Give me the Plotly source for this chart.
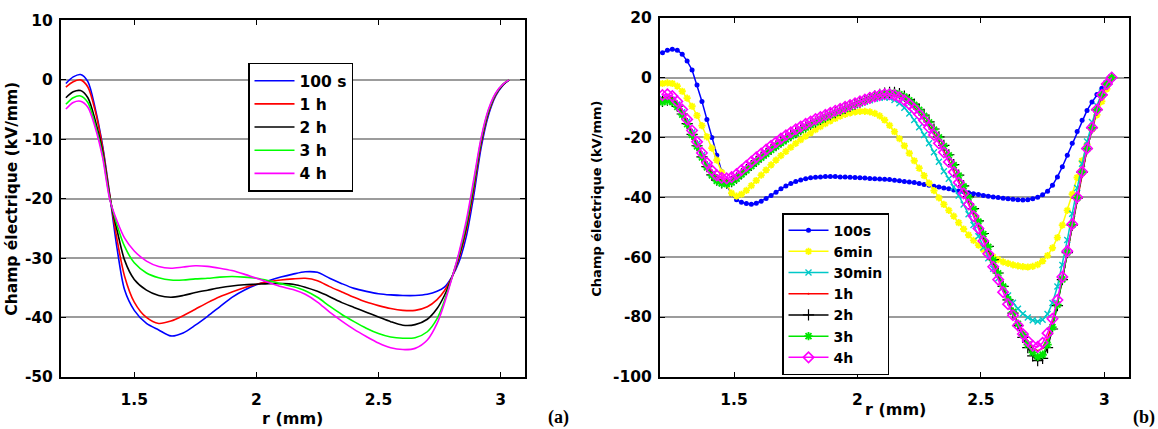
import plotly.graph_objects as go

# ---------------- data: panel (a) ----------------
r_a = [1.22, 1.25, 1.28, 1.31, 1.34, 1.37, 1.40, 1.43, 1.46,
       1.50, 1.55, 1.60, 1.65, 1.70, 1.75, 1.80, 1.85, 1.90, 1.95,
       2.00, 2.05, 2.10, 2.15, 2.20, 2.25, 2.30, 2.35, 2.40, 2.45,
       2.50, 2.55, 2.60, 2.65, 2.70, 2.74, 2.77, 2.80, 2.83, 2.86,
       2.89, 2.92, 2.95, 2.98, 3.01, 3.035]

a_100s = [-0.6, 0.5, 0.9, -0.3, -4.8, -11.0, -19.5, -28.5, -35.3,
          -38.8, -41.0, -42.1, -43.1, -42.6, -41.3, -39.8, -38.2, -36.6, -35.4,
          -34.5, -33.8, -33.2, -32.7, -32.3, -32.4, -33.4, -34.3, -35.1, -35.6,
          -36.0, -36.2, -36.3, -36.3, -36.1, -35.6, -34.9, -33.2, -30.6, -26.3,
          -19.5, -11.5, -6.0, -2.7, -0.9, 0.0]
a_1h = [-1.2, -0.3, 0.0, -1.2, -5.2, -11.3, -19.5, -27.0, -33.0,
        -37.4, -40.0, -41.0, -40.6, -39.7, -38.6, -37.5, -36.5, -35.7, -35.0,
        -34.4, -34.0, -33.7, -33.5, -33.4, -33.8, -34.8, -35.7, -36.6, -37.4,
        -38.0, -38.5, -38.8, -38.8, -38.2, -37.0, -35.5, -33.3, -30.0, -25.3,
        -18.5, -10.8, -5.6, -2.5, -0.8, 0.0]
a_2h = [-3.0, -2.0, -1.8, -3.0, -6.8, -12.0, -19.8, -25.4, -30.3,
        -33.6, -35.4, -36.3, -36.6, -36.3, -35.8, -35.4, -35.0, -34.7, -34.5,
        -34.4, -34.3, -34.3, -34.4, -34.9, -35.6, -36.5, -37.5, -38.3, -39.1,
        -39.9, -40.7, -41.3, -41.2, -40.3, -38.5, -36.3, -33.3, -29.6, -24.6,
        -17.8, -10.4, -5.4, -2.4, -0.8, 0.0]
a_3h = [-4.1, -3.0, -2.7, -3.8, -7.5, -12.5, -20.0, -24.5, -28.0,
        -30.8, -32.5, -33.3, -33.7, -33.7, -33.5, -33.4, -33.2, -33.1, -33.2,
        -33.4, -33.8, -34.3, -34.8, -35.5, -36.6, -38.1, -39.5, -40.7, -41.8,
        -42.7, -43.3, -43.5, -43.4, -42.4, -40.2, -37.2, -33.4, -29.3, -24.2,
        -17.4, -10.1, -5.2, -2.3, -0.7, 0.0]
a_4h = [-4.9, -3.8, -3.6, -4.6, -8.0, -13.0, -20.2, -23.8, -26.6,
        -28.8, -30.5, -31.4, -31.7, -31.5, -31.3, -31.4, -31.7, -32.1, -32.7,
        -33.4, -34.1, -34.8, -35.3, -36.1, -37.4, -39.1, -40.6, -42.0, -43.2,
        -44.3, -45.1, -45.4, -45.2, -43.8, -41.0, -37.6, -33.5, -29.0, -23.6,
        -16.8, -9.8, -5.0, -2.2, -0.7, 0.0]

# ---------------- data: panel (b) ----------------
r_b = [1.21, 1.23, 1.25, 1.27, 1.29, 1.31, 1.33, 1.35, 1.37, 1.39,
       1.41, 1.43, 1.45, 1.47, 1.49, 1.51, 1.53, 1.55, 1.57, 1.59,
       1.61, 1.63, 1.65, 1.67, 1.69, 1.71, 1.73, 1.75, 1.77, 1.79,
       1.81, 1.83, 1.85, 1.87, 1.89, 1.91, 1.93, 1.95, 1.97, 1.99,
       2.01, 2.03, 2.05, 2.07, 2.09, 2.11, 2.13, 2.15, 2.17, 2.19,
       2.21, 2.23, 2.25, 2.27, 2.29, 2.31, 2.33, 2.35, 2.37, 2.39,
       2.41, 2.43, 2.45, 2.47, 2.49, 2.51, 2.53, 2.55, 2.57, 2.59,
       2.61, 2.63, 2.65, 2.67, 2.69, 2.71, 2.73, 2.75, 2.77, 2.79,
       2.81, 2.83, 2.85, 2.87, 2.89, 2.91, 2.93, 2.95, 2.97, 2.99,
       3.01, 3.03]

b_100s = [8.3, 9.1, 9.4, 9.1, 7.8, 5.5, 2.5, -2.5, -8.0, -14.0,
          -20.0, -26.0, -31.5, -35.8, -39.0, -40.8, -41.7, -42.1, -42.3, -42.0,
          -41.3, -40.4, -39.4, -38.3, -37.2, -36.2, -35.4, -34.7, -34.2, -33.8,
          -33.5, -33.3, -33.2, -33.1, -33.1, -33.1, -33.2, -33.2, -33.3, -33.4,
          -33.5, -33.6, -33.7, -33.8, -33.9, -34.0, -34.1, -34.3, -34.5, -34.7,
          -34.9, -35.1, -35.4, -35.7, -36.0, -36.3, -36.6, -36.9, -37.2, -37.6,
          -37.9, -38.2, -38.5, -38.8, -39.1, -39.4, -39.7, -39.9, -40.1, -40.3,
          -40.5, -40.7, -40.8, -40.9, -40.8, -40.5, -40.0, -39.2, -38.0, -36.0,
          -33.2, -29.8, -26.0, -22.0, -18.0, -14.3, -11.0, -8.2, -5.7, -3.6,
          -1.7, 0.0]
b_6min = [-2.0, -1.8, -2.0, -2.9, -4.6, -6.9, -9.6, -12.7, -16.1, -19.8,
          -23.6, -27.6, -31.7, -35.6, -38.6, -39.6, -39.0, -37.7, -36.1, -34.4,
          -32.6, -30.9, -29.2, -27.6, -26.1, -24.7, -23.3, -22.0, -20.8, -19.6,
          -18.5, -17.4, -16.4, -15.4, -14.5, -13.7, -12.9, -12.3, -11.8, -11.5,
          -11.3, -11.3, -11.5, -12.0, -12.8, -14.2, -16.0, -18.1, -20.4, -22.8,
          -25.3, -27.8, -30.3, -32.8, -35.3, -37.8, -40.2, -42.4, -44.4, -46.3,
          -48.5, -50.6, -52.6, -54.4, -56.0, -57.5, -58.8, -59.9, -60.8, -61.6,
          -62.1, -62.6, -62.9, -63.2, -63.3, -63.1, -62.5, -61.3, -59.5, -56.9,
          -53.5, -49.3, -44.4, -39.0, -33.4, -27.8, -22.4, -17.3, -12.5, -8.0,
          -3.8, 0.0]
b_30min = [-7.2, -6.9, -7.4, -9.0, -11.6, -14.8, -18.4, -22.2, -26.0, -29.4,
           -32.2, -34.2, -35.3, -35.6, -35.0, -33.7, -32.2, -30.7, -29.3, -27.9,
           -26.6, -25.3, -24.0, -22.8, -21.6, -20.5, -19.4, -18.4, -17.4, -16.5,
           -15.6, -14.8, -14.0, -13.2, -12.5, -11.8, -11.1, -10.5, -9.9, -9.3,
           -8.7, -8.1, -7.6, -7.1, -6.8, -6.6, -6.8, -7.5, -8.6, -10.1,
           -12.0, -14.2, -16.6, -19.2, -22.0, -25.0, -28.1, -31.3, -33.8, -36.6,
           -39.4, -42.4, -45.7, -49.3, -53.0, -56.8, -60.4, -63.9, -67.1, -70.1,
           -72.8, -75.2, -77.2, -78.9, -80.2, -81.1, -81.5, -80.9, -79.0, -75.3,
           -69.8, -62.6, -54.3, -45.5, -36.9, -28.8, -21.4, -14.9, -9.4, -5.0,
           -1.9, 0.0]
b_1h = [-6.8, -6.4, -7.0, -8.7, -11.4, -14.7, -18.4, -22.2, -25.9, -29.1,
        -31.7, -33.4, -34.3, -34.5, -34.1, -33.0, -31.6, -30.2, -28.8, -27.4,
        -26.1, -24.8, -23.5, -22.3, -21.1, -20.0, -19.0, -18.0, -17.1, -16.2,
        -15.4, -14.6, -13.9, -13.2, -12.5, -11.8, -11.2, -10.5, -9.9, -9.3,
        -8.7, -8.1, -7.5, -7.0, -6.5, -6.1, -5.9, -6.0, -6.5, -7.4,
        -8.6, -10.1, -11.9, -13.9, -16.2, -18.7, -21.5, -24.5, -27.7, -31.1,
        -34.6, -38.2, -41.9, -45.7, -49.6, -53.6, -57.7, -61.9, -66.1, -70.3,
        -74.4, -78.3, -81.9, -85.2, -88.1, -90.2, -91.3, -90.4, -87.2, -82.0,
        -75.2, -67.2, -58.5, -49.4, -40.4, -31.9, -24.0, -17.0, -10.9, -5.9,
        -2.3, 0.0]
b_2h = [-8.0, -7.6, -8.0, -9.6, -12.2, -15.4, -19.0, -22.8, -26.5, -29.8,
        -32.5, -34.3, -35.2, -35.3, -34.8, -33.6, -32.2, -30.8, -29.4, -28.0,
        -26.6, -25.3, -24.0, -22.8, -21.6, -20.5, -19.4, -18.4, -17.4, -16.5,
        -15.6, -14.8, -14.0, -13.2, -12.4, -11.7, -11.0, -10.3, -9.6, -8.9,
        -8.2, -7.5, -6.8, -6.2, -5.6, -5.2, -5.0, -5.0, -5.4, -6.2,
        -7.4, -8.9, -10.6, -12.6, -14.8, -17.2, -19.8, -22.7, -25.8, -29.1,
        -32.6, -36.2, -39.9, -43.8, -47.9, -52.1, -56.4, -60.8, -65.3, -69.8,
        -74.3, -78.7, -82.9, -86.8, -90.2, -93.0, -94.6, -93.8, -90.2, -84.0,
        -76.2, -67.5, -58.5, -49.3, -40.3, -31.7, -23.8, -16.8, -10.8, -5.8,
        -2.2, 0.0]
b_3h = [-8.2, -7.8, -8.2, -9.8, -12.4, -15.6, -19.2, -23.0, -26.7, -30.0,
        -32.7, -34.5, -35.4, -35.5, -35.0, -33.8, -32.4, -31.0, -29.6, -28.2,
        -26.8, -25.5, -24.2, -23.0, -21.8, -20.7, -19.6, -18.6, -17.6, -16.7,
        -15.8, -15.0, -14.2, -13.4, -12.6, -11.9, -11.2, -10.5, -9.8, -9.1,
        -8.4, -7.7, -7.0, -6.4, -5.8, -5.4, -5.2, -5.2, -5.6, -6.4,
        -7.6, -9.1, -10.8, -12.8, -15.0, -17.4, -20.0, -22.9, -26.0, -29.3,
        -32.8, -36.4, -40.1, -44.0, -48.1, -52.3, -56.6, -61.0, -65.4, -69.8,
        -74.1, -78.3, -82.3, -86.0, -89.2, -91.8, -93.3, -92.6, -89.2, -83.4,
        -75.9, -67.4, -58.4, -49.2, -40.2, -31.6, -23.8, -16.8, -10.8, -5.8,
        -2.2, 0.0]
b_4h = [-5.9, -5.6, -6.2, -8.0, -10.7, -14.0, -17.7, -21.5, -25.2, -28.5,
        -31.0, -32.7, -33.5, -33.7, -33.3, -32.3, -30.9, -29.5, -28.1, -26.7,
        -25.4, -24.1, -22.8, -21.6, -20.4, -19.3, -18.3, -17.3, -16.4, -15.5,
        -14.7, -13.9, -13.2, -12.5, -11.8, -11.1, -10.5, -9.8, -9.2, -8.6,
        -8.0, -7.4, -6.8, -6.3, -5.9, -5.6, -5.6, -5.9, -6.6, -7.6,
        -8.9, -10.5, -12.3, -14.4, -16.7, -19.2, -22.0, -25.0, -28.2, -31.6,
        -35.1, -38.7, -42.4, -46.3, -50.4, -54.6, -58.9, -63.2, -67.5, -71.7,
        -75.7, -79.4, -82.8, -85.7, -88.0, -89.6, -90.0, -88.6, -85.4, -80.6,
        -74.3, -66.6, -58.0, -49.0, -40.0, -31.5, -23.7, -16.7, -10.7, -5.8,
        -2.2, 0.0]

labels_a = ["100 s", "1 h", "2 h", "3 h", "4 h"]
labels_b = ["100s", "6min", "30min", "1h", "2h", "3h", "4h"]
x_ticks = [1.5, 2, 2.5, 3]
x_ticklabels = ["1.5", "2", "2.5", "3"]
y_ticks_a = [10, 0, -10, -20, -30, -40, -50]
y_ticklabels_a = ["10", "0", "-10", "-20", "-30", "-40", "-50"]
y_ticks_b = [20, 0, -20, -40, -60, -80, -100]
y_ticklabels_b = ["20", "0", "-20", "-40", "-60", "-80", "-100"]

# ---------------- figure ----------------
W, H = 1158, 429
FONT = "DejaVu Sans, Verdana, sans-serif"

fig = go.Figure()

series_a = [a_100s, a_1h, a_2h, a_3h, a_4h]
colors_a = ["#0000FF", "#FF0000", "#000000", "#00FF00", "#FF00FF"]
for name, ys, col in zip(labels_a, series_a, colors_a):
    fig.add_trace(go.Scatter(
        x=r_a, y=ys, name=name, mode="lines",
        line=dict(color=col, width=1.6, shape="spline", smoothing=0.8),
        xaxis="x", yaxis="y", legend="legend"))

series_b = [b_100s, b_6min, b_30min, b_1h, b_2h, b_3h, b_4h]
colors_b = ["#0000FF", "#FFFF00", "#00C8C8", "#FF0000", "#000000", "#00E600", "#FF00FF"]
symbols_b = ["circle", "asterisk-open", "x-thin-open", "circle", "cross-thin-open",
             "asterisk-open", "diamond-open"]
sizes_b = [5, 6, 6, 2, 8, 7, 8]
mlw_b = [0, 1.8, 1.4, 0, 1.2, 1.8, 1.6]
for name, ys, col, sym, sz, mlw in zip(labels_b, series_b, colors_b, symbols_b, sizes_b, mlw_b):
    fig.add_trace(go.Scatter(
        x=r_b, y=ys, name=name, mode="lines+markers",
        line=dict(color=col, width=1.5),
        marker=dict(symbol=sym, size=sz, color=col, line=dict(color=col, width=mlw)),
        xaxis="x2", yaxis="y2", legend="legend2"))

def px_x(p):
    return p / W

def px_y(p):
    return 1 - p / H

axis_common = dict(
    showline=True, linecolor="black", linewidth=2, mirror="allticks",
    ticks="inside", ticklen=5, tickwidth=1.2, tickcolor="black",
    zeroline=False,
    tickfont=dict(family=FONT, size=15.5, color="black", weight="bold"),
)

fig.update_layout(
    width=W, height=H,
    margin=dict(l=0, r=0, t=0, b=0),
    paper_bgcolor="white", plot_bgcolor="white",
    xaxis=dict(domain=[px_x(61), px_x(525)], range=[1.2, 3.1], anchor="y",
               tickvals=x_ticks, ticktext=x_ticklabels, showgrid=False,
               ticklabelstandoff=8, **axis_common),
    yaxis=dict(domain=[px_y(384), px_y(12)], range=[-50, 10], anchor="x",
               tickvals=y_ticks_a, ticktext=y_ticklabels_a,
               showgrid=True, gridcolor="#9C9C9C", gridwidth=1.5,
               ticklabelstandoff=3, **axis_common),
    xaxis2=dict(domain=[px_x(660), px_x(1129)], range=[1.2, 3.1], anchor="y2",
                tickvals=x_ticks, ticktext=x_ticklabels, showgrid=False,
                ticklabelstandoff=8, **axis_common),
    yaxis2=dict(domain=[px_y(384), px_y(9)], range=[-100, 20], anchor="x2",
                tickvals=y_ticks_b, ticktext=y_ticklabels_b,
                showgrid=True, gridcolor="#9C9C9C", gridwidth=1.5,
                ticklabelstandoff=3, **axis_common),
    legend=dict(x=px_x(248), y=px_y(56), xanchor="left", yanchor="top",
                bgcolor="white", bordercolor="black", borderwidth=1.5,
                font=dict(family=FONT, size=15.5, color="black", weight="bold"),
                itemwidth=40, tracegroupgap=0, traceorder="normal"),
    legend2=dict(x=px_x(782), y=px_y(213), xanchor="left", yanchor="top",
                 bgcolor="white", bordercolor="black", borderwidth=1.5,
                 font=dict(family=FONT, size=14, color="black", weight="bold"),
                 itemwidth=40, tracegroupgap=0, traceorder="normal"),
    showlegend=True,
)

annots = [
    dict(text="r (mm)", x=px_x(292), y=px_y(427), font=dict(size=16)),
    dict(text="r (mm)", x=px_x(895), y=px_y(418), font=dict(size=16)),
    dict(text="Champ électrique (kV/mm)", x=px_x(12), y=px_y(198), textangle=-90,
         font=dict(size=15.5)),
    dict(text="Champ électrique (kV/mm)", x=px_x(597), y=px_y(198), textangle=-90,
         font=dict(size=13)),
]
for a in annots:
    f = dict(family=FONT, color="black", weight="bold")
    f.update(a.pop("font"))
    fig.add_annotation(xref="paper", yref="paper", showarrow=False,
                       xanchor="center", yanchor="middle", font=f, **a)

for txt, xc, xa in [("(a)", 558, "center"), ("(b)", 1157, "right")]:
    fig.add_annotation(text=txt, xref="paper", yref="paper", x=px_x(xc), y=px_y(439),
                       xanchor=xa, yanchor="bottom", showarrow=False,
                       font=dict(family="Liberation Serif, Times New Roman, serif",
                                 size=18, color="black", weight="bold"))

fig.write_html("out.html")
